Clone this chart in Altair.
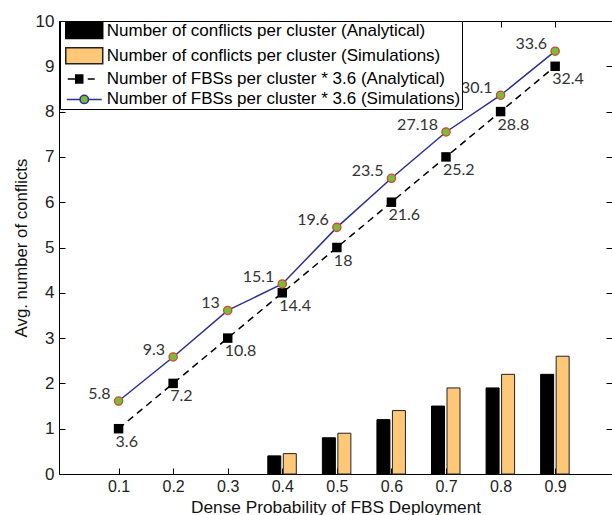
import altair as alt
import pandas as pd

# ---------------- data ----------------
prob = [0.1, 0.2, 0.3, 0.4, 0.5, 0.6, 0.7, 0.8, 0.9]
conflicts_analytical = [0, 0, 0, 0.4, 0.8, 1.2, 1.5, 1.9, 2.2]
conflicts_simulation = [0, 0, 0, 0.45, 0.9, 1.4, 1.9, 2.2, 2.6]
fbs_x36_analytical = [3.6, 7.2, 10.8, 14.4, 18, 21.6, 25.2, 28.8, 32.4]
fbs_x36_simulation = [5.8, 9.3, 13, 15.1, 19.6, 23.5, 27.18, 30.1, 33.6]
labels_analytical = ["3.6", "7.2", "10.8", "14.4", "18", "21.6", "25.2", "28.8", "32.4"]
labels_simulation = ["5.8", "9.3", "13", "15.1", "19.6", "23.5", "27.18", "30.1", "33.6"]
multiplier = 3.6
y_ticks = [0, 1, 2, 3, 4, 5, 6, 7, 8, 9, 10]
series_names = [
    "Number of conflicts per cluster (Analytical)",
    "Number of conflicts per cluster (Simulations)",
    "Number of FBSs per cluster * 3.6 (Analytical)",
    "Number of FBSs per cluster * 3.6 (Simulations)",
]

BLACK = "#000000"
ORANGE = "#FFC878"
BLUE = "#2B2F96"
GREEN = "#77BC3C"
RED = "#D9462B"

df = pd.DataFrame({
    "p": prob,
    "ca": conflicts_analytical,
    "cs": conflicts_simulation,
    "fa": fbs_x36_analytical,
    "fs": fbs_x36_simulation,
    "la": labels_analytical,
    "ls": labels_simulation,
})

xscale = alt.Scale(domain=[0, 0.995], nice=False, zero=False)
yscale = alt.Scale(domain=[0, 10], nice=False, zero=False)

tick_common = dict(offset=-6, tickSize=6, tickColor="black", tickWidth=1,
                   domain=False, grid=False)

axis_bottom = alt.Axis(orient="bottom", values=prob, format=".1f", labelPadding=4,
                       labelFont="Liberation Sans", labelFontSize=16, labelColor="#222",
                       title="Dense Probability of FBS Deployment", titleFont="Liberation Sans",
                       titleFontSize=17.3, titleFontWeight="normal", titleColor="#111",
                       titlePadding=4, **tick_common)
axis_top = alt.Axis(orient="top", values=prob, labels=False, title=None, **tick_common)
axis_left = alt.Axis(orient="left", values=y_ticks, labelPadding=5,
                     labelFont="Liberation Sans", labelFontSize=17, labelColor="#222",
                     title="Avg. number of conflicts", titleFont="Liberation Sans",
                     titleFontSize=16.8, titleFontWeight="normal", titleColor="#111",
                     titlePadding=5, **tick_common)
axis_right = alt.Axis(orient="right", values=y_ticks, labels=False, title=None, **tick_common)

# legend symbol paths (unit = 6 px at symbolSize 144)
RECT = "M-3.08,-1.33H3.08V1.33H-3.08Z"
DASH = "M-2.75,0H-1.42M0.58,0H1.75M-1.42,-0.67H-0.25V0.67H-1.42Z"
CIRC = ("M-2.92,0H-0.7M0.7,0H2.92M-0.7,0A0.7,0.7 0 1,0 0.7,0"
        "A0.7,0.7 0 1,0 -0.7,0Z")

legend_main = alt.Legend(
    orient="none", legendX=1, legendY=0, title=None, padding=1,
    strokeColor="black", fillColor="white", labelColor="black",
    labelFont="Liberation Sans", labelFontSize=17, labelLimit=600,
    symbolSize=144, symbolOffset=14.75, labelOffset=14, rowPadding=2.3,
    symbolStrokeWidth=1.5,
    symbolType={"expr": f"datum.index < 2 ? '{RECT}' : (datum.index == 2 ? '{DASH}' : '{CIRC}')"},
    symbolStrokeColor={"expr": f"['#000000', '#222222', '#000000', '{BLUE}'][datum.index]"},
    symbolOpacity=1,
)

# bar colours for the first two entries; the last two only colour legend markers
color_scale = alt.Scale(domain=series_names, range=[BLACK, ORANGE, BLACK, GREEN])

base = alt.Chart(df)

bars_a = base.transform_filter("datum.ca > 0").transform_calculate(
    series=f"'{series_names[0]}'"
).mark_bar(size=13, xOffset=-8, stroke="black", strokeWidth=1, orient="vertical").encode(
    x=alt.X("p:Q", scale=xscale, axis=axis_bottom),
    y=alt.Y("ca:Q", scale=yscale, axis=axis_left, stack=None),
    color=alt.Color("series:N", scale=color_scale, legend=legend_main),
)

bars_s = base.transform_filter("datum.cs > 0").transform_calculate(
    series=f"'{series_names[1]}'"
).mark_bar(size=13, xOffset=7.5, stroke="#222", strokeWidth=1, orient="vertical").encode(
    x=alt.X("p:Q", scale=xscale, axis=axis_top),
    y=alt.Y("cs:Q", scale=yscale, axis=axis_right, stack=None),
    color=alt.Color("series:N", scale=color_scale, legend=legend_main),
)

fa_base = base.transform_calculate(y=f"datum.fa / {multiplier}").encode(
    x=alt.X("p:Q", scale=xscale, axis=None),
    y=alt.Y("y:Q", scale=yscale, axis=None),
)
fs_base = base.transform_calculate(y=f"datum.fs / {multiplier}").encode(
    x=alt.X("p:Q", scale=xscale, axis=None),
    y=alt.Y("y:Q", scale=yscale, axis=None),
)

line_a = fa_base.mark_line(color=BLACK, strokeDash=[7, 5], strokeWidth=1.5)
pts_a = fa_base.mark_point(shape="square", size=90, filled=True, color=BLACK, opacity=1)
line_s = fs_base.mark_line(color=BLUE, strokeWidth=1.5)
pts_s = fs_base.mark_point(shape="circle", size=68, filled=True, fill=GREEN, stroke=RED,
                           strokeWidth=1.3, opacity=1)

txt_a = fa_base.mark_text(align="left", baseline="middle", dx=-3, dy=13, font="Lato",
                          fontSize=16, color="#333").encode(text="la:N")
txt_s = fs_base.mark_text(align="right", baseline="middle", dx=-8, dy=-7, font="Lato",
                          fontSize=16, color="#333").encode(text="ls:N")

chart = alt.layer(
    bars_a, bars_s, line_a, line_s, pts_a, pts_s, txt_a, txt_s
).resolve_axis(x="independent", y="independent").properties(
    width=553, height=453,
    padding={"left": 59, "top": 21, "right": 0, "bottom": 41},
    autosize=alt.AutoSizeParams(type="none"),
    background="white",
).configure_view(stroke="black", strokeWidth=1)

chart.save("out.html", embed_options={"renderer": "svg", "actions": False})
